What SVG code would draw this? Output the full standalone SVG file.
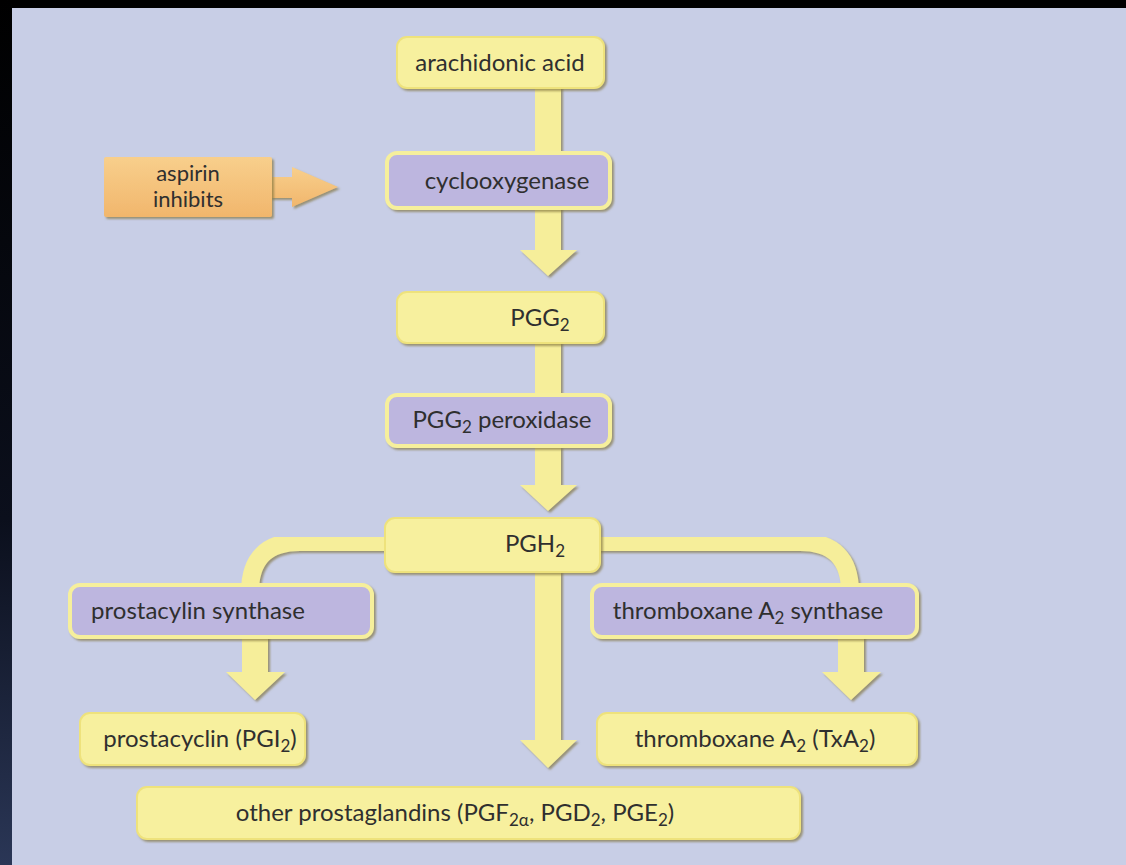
<svg xmlns="http://www.w3.org/2000/svg" width="1126" height="865" viewBox="0 0 1126 865">
<defs>
<linearGradient id="edge" x1="0" y1="0" x2="0" y2="1">
<stop offset="0" stop-color="#000"/><stop offset="0.6" stop-color="#0b0f1c"/><stop offset="1" stop-color="#2a3656"/>
</linearGradient>
<linearGradient id="orange" x1="0" y1="0" x2="0" y2="1">
<stop offset="0" stop-color="#f8cf8c"/><stop offset="1" stop-color="#f1b66c"/>
</linearGradient>
<filter id="sh" x="-10%" y="-10%" width="125%" height="130%">
<feDropShadow dx="2" dy="2" stdDeviation="1" flood-color="#7d6f3a" flood-opacity="0.65"/>
</filter>
</defs>
<style>
.y{fill:#f7f09e;stroke:#eee27c;stroke-width:2;filter:url(#sh)}
.p{fill:#bdb6df;stroke:#f6ef9c;stroke-width:4;filter:url(#sh)}
.o{fill:url(#orange);filter:url(#sh)}
.c{fill:#f6ee9a;filter:url(#sh)}
.arm{fill:none;stroke:#f6ee9a;stroke-width:18;filter:url(#sh)}
text{font-family:Lato,"Open Sans","Liberation Sans",sans-serif;font-size:24px;fill:#2f2f2f;text-anchor:middle}
.s{font-size:17px}
.a{font-size:22px}
</style>
<rect width="1126" height="865" fill="#c8cee6"/>
<rect width="1126" height="8" fill="#000"/>
<rect width="12" height="865" fill="url(#edge)"/>

<g id="connectors">
<rect class="c" x="535" y="86" width="26" height="68"/>
<path class="c" d="M535 206 H561 V250 H577 L548 276 L520 250 H535 Z"/>
<rect class="c" x="535" y="341" width="26" height="56"/>
<path class="c" d="M535 446 H561 V485 H577 L548 511 L520 485 H535 Z"/>
<path class="arm" d="M392 542 H300 Q250 542 250 592"/>
<path class="arm" d="M596 542 H800 Q850 542 850 592"/>
<path class="c" d="M535 570 H561 V740 H577 L548 768 L520 740 H535 Z"/>
<path class="c" d="M242 635 H268 V672 H285 L255 700 L226 672 H242 Z"/>
<path class="c" d="M838 635 H864 V672 H881 L851 700 L822 672 H838 Z"/>
<path class="o" d="M270 177 H292 V167 L338 187 L292 207 V198 H270 Z"/>
</g>

<g id="arachidonic-acid">
<rect class="y" x="397" y="37" width="207" height="51" rx="10"/>
<text x="500" y="71">arachidonic acid</text>
</g>
<g id="aspirin-inhibits">
<rect class="o" x="104" y="157" width="168" height="60" rx="2"/>
<text class="a" x="188" y="181">aspirin</text>
<text class="a" x="188" y="207">inhibits</text>
</g>
<g id="cyclooxygenase">
<rect class="p" x="387" y="153" width="223" height="55" rx="10"/>
<text x="507" y="189">cyclooxygenase</text>
</g>
<g id="pgg2">
<rect class="y" x="397" y="292" width="207" height="51" rx="10"/>
<text x="540" y="326">PGG<tspan class="s" dy="5">2</tspan></text>
</g>
<g id="pgg2-peroxidase">
<rect class="p" x="387" y="395" width="223" height="51" rx="10"/>
<text x="502" y="428">PGG<tspan class="s" dy="5">2</tspan><tspan dy="-5"> peroxidase</tspan></text>
</g>
<g id="pgh2">
<rect class="y" x="385" y="518" width="215" height="54" rx="10"/>
<text x="535" y="552">PGH<tspan class="s" dy="5">2</tspan></text>
</g>
<g id="prostacyclin-synthase">
<rect class="p" x="70" y="585" width="302" height="52" rx="10"/>
<text x="198" y="619">prostacylin synthase</text>
</g>
<g id="thromboxane-synthase">
<rect class="p" x="592" y="585" width="325" height="52" rx="10"/>
<text x="748" y="619">thromboxane A<tspan class="s" dy="5">2</tspan><tspan dy="-5"> synthase</tspan></text>
</g>
<g id="prostacyclin">
<rect class="y" x="80" y="713" width="225" height="52" rx="10"/>
<text x="200" y="747">prostacyclin (PGI<tspan class="s" dy="5">2</tspan><tspan dy="-5">)</tspan></text>
</g>
<g id="thromboxane-a2">
<rect class="y" x="597" y="713" width="320" height="52" rx="10"/>
<text x="755" y="747">thromboxane A<tspan class="s" dy="5">2</tspan><tspan dy="-5"> (TxA</tspan><tspan class="s" dy="5">2</tspan><tspan dy="-5">)</tspan></text>
</g>
<g id="other-prostaglandins">
<rect class="y" x="137" y="787" width="663" height="52" rx="10"/>
<text x="455" y="821">other prostaglandins (PGF<tspan class="s" dy="5">2α</tspan><tspan dy="-5">, PGD</tspan><tspan class="s" dy="5">2</tspan><tspan dy="-5">, PGE</tspan><tspan class="s" dy="5">2</tspan><tspan dy="-5">)</tspan></text>
</g>
</svg>
